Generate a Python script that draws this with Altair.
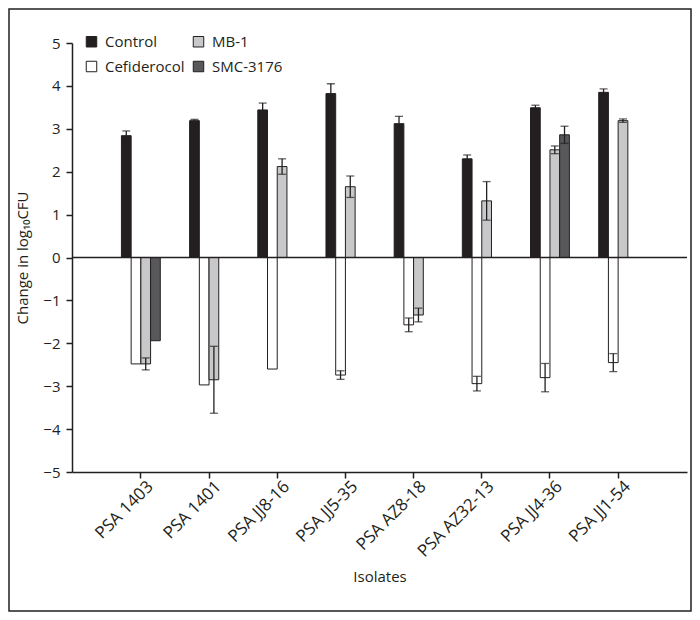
import altair as alt
import pandas as pd

isolates = ["PSA 1403", "PSA 1401", "PSA JJ8-16", "PSA JJ5-35",
            "PSA AZ8-18", "PSA AZ32-13", "PSA JJ4-36", "PSA JJ1-54"]
series_order = ["Control", "Cefiderocol", "MB-1", "SMC-3176"]
fills = ["#231f20", "#ffffff", "#c8c8ca", "#58585a"]

control = [2.84, 3.19, 3.44, 3.82, 3.12, 2.30, 3.49, 3.85]
control_err = [0.11, 0.03, 0.16, 0.23, 0.17, 0.09, 0.06, 0.08]
cefiderocol = [-2.48, -2.97, -2.60, -2.74, -1.57, -2.94, -2.80, -2.45]
cefiderocol_err = [0.0, 0.0, 0.0, 0.10, 0.16, 0.17, 0.33, 0.21]
mb1 = [-2.48, -2.85, 2.12, 1.65, -1.34, 1.32, 2.51, 3.19]
mb1_err = [0.14, 0.78, 0.18, 0.25, 0.16, 0.45, 0.09, 0.04]
smc_isolates = ["PSA 1403", "PSA JJ4-36"]
smc = [-1.94, 2.86]
smc_err = [0.0, 0.20]

rows = []
for name, vals, errs, isos in [
    ("Control", control, control_err, isolates),
    ("Cefiderocol", cefiderocol, cefiderocol_err, isolates),
    ("MB-1", mb1, mb1_err, isolates),
    ("SMC-3176", smc, smc_err, smc_isolates),
]:
    for iso, v, e in zip(isos, vals, errs):
        rows.append({"iso": iso, "series": name, "value": v, "err": e,
                     "lo": v - e, "hi": v + e})
df = pd.DataFrame(rows)
err_df = df[df["err"] > 0]

FONT = "Open Sans"
INK = "#231f20"

x_enc = alt.X("iso:N", sort=isolates,
              scale=alt.Scale(paddingInner=0.43, paddingOuter=0.725),
              axis=alt.Axis(title="Isolates", labelAngle=-45, labelAlign="right",
                            labelBaseline="top", labelOffset=4, labelPadding=0,
                            tickSize=6, labelFontSize=17, titleFontSize=15,
                            titleFontWeight="normal", titleY=104,
                            titleBaseline="middle"))
xo_enc = alt.XOffset("series:N", sort=series_order,
                     scale=alt.Scale(domain=series_order, paddingInner=0, paddingOuter=0))
y_scale = alt.Scale(domain=[-5, 5], nice=False)
y_axis = alt.Axis(title="Change in log₁₀CFU", values=list(range(-5, 6)), tickSize=6,
                  labelPadding=6, labelFontSize=15, titleFontSize=15,
                  titleFontWeight="normal", titlePadding=12, grid=False)

bars = alt.Chart(df).mark_bar(stroke=INK, strokeWidth=1).encode(
    x=x_enc,
    xOffset=xo_enc,
    y=alt.Y("value:Q", scale=y_scale, axis=y_axis),
    color=alt.Color("series:N",
                    scale=alt.Scale(domain=series_order, range=fills),
                    legend=alt.Legend(title=None, orient="none", legendX=12, legendY=-9,
                                      columns=2, columnPadding=6, rowPadding=9,
                                      symbolType="square", symbolSize=110,
                                      symbolStrokeColor=INK, symbolStrokeWidth=1,
                                      labelFontSize=15, labelOffset=6, padding=0)),
)

zero = alt.Chart(pd.DataFrame({"z": [0]})).mark_rule(color=INK, strokeWidth=1.5).encode(
    y=alt.Y("z:Q", scale=y_scale)
)

err_rule = alt.Chart(err_df).mark_rule(color=INK, strokeWidth=1.3).encode(
    x=alt.X("iso:N", sort=isolates),
    xOffset=xo_enc,
    y=alt.Y("lo:Q", scale=y_scale),
    y2="hi:Q",
)
cap_lo = alt.Chart(err_df).mark_tick(color=INK, thickness=1.3, size=8).encode(
    x=alt.X("iso:N", sort=isolates),
    xOffset=xo_enc,
    y=alt.Y("lo:Q", scale=y_scale),
)
cap_hi = alt.Chart(err_df).mark_tick(color=INK, thickness=1.3, size=8).encode(
    x=alt.X("iso:N", sort=isolates),
    xOffset=xo_enc,
    y=alt.Y("hi:Q", scale=y_scale),
)

frame = alt.Chart(pd.DataFrame({"a": [0]})).mark_rect(
    filled=False, stroke=INK, strokeWidth=1.5
).encode(
    x=alt.value(-63), x2=alt.value(619), y=alt.value(-34), y2=alt.value(568)
)

chart = alt.layer(bars, zero, err_rule, cap_lo, cap_hi, frame).properties(
    width=615, height=429,
    autosize=alt.AutoSizeParams(type="none"),
    padding={"left": 64, "top": 35, "right": 5, "bottom": 140},
).configure(
    font=FONT,
).configure_view(
    stroke=None
).configure_axis(
    domainColor=INK, tickColor=INK, labelColor=INK, titleColor=INK,
    domainWidth=1.5, tickWidth=1.5, labelFont=FONT, titleFont=FONT,
).configure_legend(
    labelColor=INK, labelFont=FONT
)

chart.save("out.html", embed_options={"renderer": "svg", "actions": False})
